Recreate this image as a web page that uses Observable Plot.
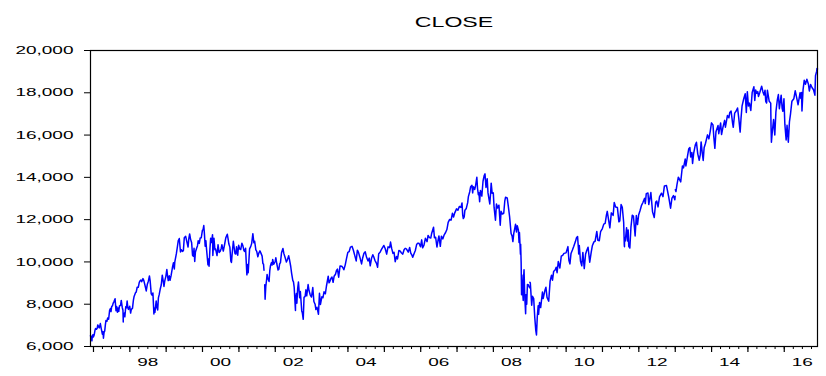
<!DOCTYPE html>
<html>
<head>
<meta charset="utf-8">
<script src="https://cdn.jsdelivr.net/npm/d3@7"></script>
<script src="https://cdn.jsdelivr.net/npm/@observablehq/plot@0.6"></script>
<style>
  html, body { margin: 0; padding: 0; background: #fff; }
</style>
</head>
<body>
<div id="chart"></div>
<script>
// ---- Data (approximate closes) ----
const title = "CLOSE";
const yTicks = [6000, 8000, 10000, 12000, 14000, 16000, 18000, 20000];
const xLabelYears = [1998, 2000, 2002, 2004, 2006, 2008, 2010, 2012, 2014, 2016];
const xLabels = ["98", "00", "02", "04", "06", "08", "10", "12", "14", "16"];

const close1996_1998 = [
["1996-12-02",6522],["1996-12-05",6437],["1996-12-10",6473],["1996-12-16",6268],["1996-12-20",6485],["1996-12-27",6560],["1996-12-31",6448],
["1997-01-08",6549],["1997-01-16",6766],["1997-01-22",6850],["1997-01-31",6813],["1997-02-07",6856],["1997-02-13",7022],["1997-02-21",6931],["1997-02-28",6878],["1997-03-11",7085],["1997-03-18",6896],["1997-03-31",6583],["1997-04-07",6703],["1997-04-11",6391],["1997-04-17",6658],["1997-04-24",6738],["1997-04-30",7008],["1997-05-06",7225],["1997-05-16",7194],["1997-05-23",7345],["1997-06-02",7289],["1997-06-12",7711],["1997-06-20",7796],["1997-06-26",7651],["1997-07-03",7895],["1997-07-11",7921],["1997-07-17",8038],["1997-07-25",8113],["1997-08-06",8259],["1997-08-15",7694],["1997-08-22",7887],["1997-08-29",7622],["1997-09-05",7822],["1997-09-12",7660],["1997-09-19",7917],["1997-09-30",7945],["1997-10-07",8178],["1997-10-17",7847],["1997-10-24",7715],["1997-10-27",7161],["1997-10-28",7498],["1997-11-07",7581],["1997-11-12",7402],["1997-11-21",7881],["1997-11-28",7823],["1997-12-05",8149],["1997-12-12",7839],["1997-12-19",7757],["1997-12-31",7908],
["1998-01-09",7580],["1998-01-16",7753],["1998-01-28",7815],["1998-02-06",8190],["1998-02-13",8370],["1998-02-27",8546],["1998-03-06",8570],["1998-03-16",8803],["1998-03-27",8797],["1998-04-06",9033],["1998-04-14",9110],["1998-04-22",9143],["1998-04-30",9063],["1998-05-13",9211],["1998-05-22",9114],["1998-06-01",8922],["1998-06-15",8627],["1998-06-26",8945],["1998-07-06",9085],["1998-07-17",9338],["1998-07-24",9116],["1998-08-04",8487],["1998-08-14",8425],["1998-08-21",8534],["1998-08-31",7539],["1998-09-01",7827],["1998-09-10",7615],["1998-09-23",8154],["1998-09-30",7843],["1998-10-08",7731],["1998-10-15",8300],["1998-10-23",8452],["1998-11-02",8707],["1998-11-13",8920],["1998-11-23",9374],["1998-12-01",9134],["1998-12-10",8841],["1998-12-18",9102],["1998-12-29",9320]
];

const close1999_2002 = [
["1999-01-08",9643],["1999-01-15",9340],["1999-01-22",9120],["1999-02-01",9346],["1999-02-09",9133],["1999-02-19",9340],["1999-03-05",9736],["1999-03-15",9959],["1999-03-24",9666],["1999-03-29",10006],["1999-04-14",10400],["1999-04-23",10689],["1999-05-03",11015],["1999-05-13",11107],["1999-05-25",10470],["1999-06-02",10577],["1999-06-14",10500],["1999-06-23",10534],["1999-07-02",11139],["1999-07-16",11209],["1999-07-27",10979],["1999-08-09",10707],["1999-08-17",11117],["1999-08-25",11326],["1999-09-03",11079],["1999-09-14",10910],["1999-09-23",10318],["1999-10-01",10273],["1999-10-08",10649],["1999-10-15",10019],["1999-10-22",10470],["1999-11-03",10648],["1999-11-12",10770],["1999-11-19",11003],["1999-11-30",10878],["1999-12-09",11135],["1999-12-20",11145],["1999-12-31",11497],
["2000-01-07",11523],["2000-01-14",11723],["2000-01-20",11351],["2000-01-28",10739],["2000-02-04",11006],["2000-02-10",10643],["2000-02-18",10219],["2000-02-25",9862],["2000-03-01",10137],["2000-03-07",9796],["2000-03-16",10630],["2000-03-23",11119],["2000-03-31",10922],["2000-04-11",11287],["2000-04-14",10305],["2000-04-25",11125],["2000-05-05",10577],["2000-05-12",10610],["2000-05-26",10300],["2000-06-05",10815],["2000-06-16",10449],["2000-06-27",10504],["2000-07-07",10635],["2000-07-14",10813],["2000-07-28",10512],["2000-08-09",10801],["2000-08-22",11139],["2000-09-06",11310],["2000-09-14",11087],["2000-09-22",10847],["2000-10-02",10700],["2000-10-12",10035],["2000-10-18",9975],["2000-10-25",10380],["2000-11-06",10977],["2000-11-14",10681],["2000-11-22",10399],["2000-12-01",10373],["2000-12-08",10713],["2000-12-20",10318],["2000-12-29",10787],
["2001-01-08",10621],["2001-01-19",10587],["2001-01-31",10887],["2001-02-09",10781],["2001-02-21",10526],["2001-02-28",10495],["2001-03-09",10644],["2001-03-15",10031],["2001-03-22",9389],["2001-03-30",9879],["2001-04-04",9485],["2001-04-18",10615],["2001-04-30",10735],["2001-05-09",10867],["2001-05-21",11337],["2001-05-31",10912],["2001-06-08",10977],["2001-06-20",10567],["2001-06-29",10502],["2001-07-10",10241],["2001-07-20",10416],["2001-07-31",10523],["2001-08-10",10417],["2001-08-22",10275],["2001-08-30",9919],["2001-09-05",9899],["2001-09-10",9605],["2001-09-11",null],["2001-09-17",8920],["2001-09-21",8235],["2001-09-28",8848],["2001-10-05",9120],["2001-10-11",9410],["2001-10-19",9204],["2001-10-31",9075],["2001-11-07",9591],["2001-11-14",9823],["2001-11-23",9959],["2001-11-30",9852],["2001-12-06",10115],["2001-12-17",9891],["2001-12-31",10021],
["2002-01-07",10197],["2002-01-16",9925],["2002-01-29",9618],["2002-02-06",9653],["2002-02-14",9903],["2002-02-22",9968],["2002-03-05",10433],["2002-03-19",10635],["2002-03-28",10404],["2002-04-10",10211],["2002-04-23",10000],["2002-05-02",10090],["2002-05-16",10289],["2002-05-24",10105],["2002-06-05",9796],["2002-06-14",9474],["2002-06-26",9127],["2002-07-03",9055],["2002-07-10",8813],["2002-07-19",8019],["2002-07-23",7702],["2002-07-24",8191],["2002-08-01",8506],["2002-08-06",8043],["2002-08-14",8743],["2002-08-22",9053],["2002-09-03",8308],["2002-09-10",8602],["2002-09-24",7683],["2002-09-30",7592],["2002-10-09",7286],["2002-10-17",8322],["2002-10-28",8368],["2002-11-05",8678],["2002-11-13",8398],["2002-11-27",8931],["2002-12-06",8645],["2002-12-18",8447],["2002-12-31",8341]
];

const close2003_2007 = [
["2003-01-13",8785],["2003-01-24",8131],["2003-02-05",8000],["2003-02-13",7749],["2003-02-24",7858],["2003-03-11",7524],["2003-03-21",8521],["2003-03-31",7992],["2003-04-14",8351],["2003-04-25",8307],["2003-05-06",8588],["2003-05-19",8493],["2003-05-30",8850],["2003-06-17",9323],["2003-06-25",9011],["2003-07-03",9070],["2003-07-14",9217],["2003-07-25",9284],["2003-08-05",9036],["2003-08-15",9321],["2003-08-29",9415],["2003-09-08",9593],["2003-09-18",9659],["2003-09-30",9275],["2003-10-14",9812],["2003-10-31",9801],["2003-11-10",9737],["2003-11-21",9628],["2003-12-05",9862],["2003-12-17",10145],["2003-12-31",10453],
["2004-01-13",10485],["2004-01-26",10702],["2004-02-11",10737],["2004-02-24",10566],["2004-03-10",10296],["2004-03-24",10048],["2004-04-05",10558],["2004-04-16",10451],["2004-04-30",10225],["2004-05-17",9906],["2004-05-28",10188],["2004-06-10",10410],["2004-06-23",10479],["2004-07-06",10219],["2004-07-21",10046],["2004-08-02",10179],["2004-08-12",9814],["2004-08-25",10173],["2004-09-07",10341],["2004-09-16",10244],["2004-09-28",10077],["2004-10-14",9933],["2004-10-25",9750],["2004-11-05",10387],["2004-11-19",10457],["2004-12-03",10592],["2004-12-15",10691],["2004-12-27",10777],
["2005-01-10",10621],["2005-01-24",10368],["2005-02-07",10715],["2005-02-23",10673],["2005-03-04",10940],["2005-03-16",10627],["2005-03-28",10405],["2005-04-08",10461],["2005-04-20",10012],["2005-05-03",10256],["2005-05-13",10141],["2005-05-27",10542],["2005-06-10",10513],["2005-06-22",10421],["2005-07-05",10371],["2005-07-18",10574],["2005-07-29",10641],["2005-08-10",10616],["2005-08-29",10463],["2005-09-12",10682],["2005-09-23",10420],["2005-10-05",10317],["2005-10-13",10217],["2005-10-25",10377],["2005-11-08",10539],["2005-11-21",10821],["2005-12-02",10878],["2005-12-15",10882],["2005-12-30",10718],
["2006-01-11",11043],["2006-01-20",10667],["2006-02-03",10794],["2006-02-17",11115],["2006-03-06",10959],["2006-03-16",11254],["2006-03-30",11150],["2006-04-12",11129],["2006-04-21",11347],["2006-05-10",11642],["2006-05-19",11144],["2006-05-31",11168],["2006-06-13",10706],["2006-06-23",10989],["2006-07-03",11228],["2006-07-17",10739],["2006-07-28",11219],["2006-08-11",11089],["2006-08-25",11284],["2006-09-08",11392],["2006-09-21",11533],["2006-10-04",11871],["2006-10-19",12011],["2006-11-03",11987],["2006-11-16",12305],["2006-11-27",12121],["2006-12-08",12307],["2006-12-27",12510],
["2007-01-10",12442],["2007-01-24",12621],["2007-02-09",12580],["2007-02-20",12786],["2007-02-27",12216],["2007-03-05",12051],["2007-03-14",12133],["2007-03-21",12447],["2007-04-04",12530],["2007-04-18",12803],["2007-04-25",13089],["2007-05-08",13309],["2007-05-18",13556],["2007-05-31",13628],["2007-06-07",13266],["2007-06-14",13553],["2007-06-27",13427],["2007-07-05",13577],["2007-07-19",14000],["2007-07-26",13473],["2007-08-03",13182],["2007-08-09",13271],["2007-08-16",12845],["2007-08-24",13379],["2007-09-07",13113],["2007-09-19",13816],["2007-10-01",14087],["2007-10-09",14164],["2007-10-19",13522],["2007-10-31",13930],["2007-11-08",13266],["2007-11-26",12743],["2007-12-04",13249],["2007-12-10",13727],["2007-12-20",13245],["2007-12-31",13265]
];

const close2008_2011 = [
["2008-01-08",12589],["2008-01-22",11971],["2008-02-01",12743],["2008-02-13",12553],["2008-02-26",12684],["2008-03-10",11740],["2008-03-18",12392],["2008-03-31",12263],["2008-04-14",12303],["2008-04-25",12892],["2008-05-02",13058],["2008-05-19",13028],["2008-05-30",12638],["2008-06-12",12141],["2008-06-27",11346],["2008-07-07",11231],["2008-07-15",10962],["2008-07-24",11350],["2008-08-11",11782],["2008-08-20",11417],["2008-08-28",11715],["2008-09-08",11511],["2008-09-15",10917],["2008-09-19",11388],["2008-09-29",10365],["2008-10-01",10831],["2008-10-06",9955],["2008-10-10",8451],["2008-10-13",9387],["2008-10-15",8578],["2008-10-22",8519],["2008-10-27",8175],["2008-10-28",9065],["2008-11-04",9625],["2008-11-12",8283],["2008-11-20",7552],["2008-11-24",8443],["2008-12-01",7997],["2008-12-08",8934],["2008-12-16",8925],["2008-12-31",8776],["2009-01-01",null],
["2009-01-02",9034],["2009-01-06",9015],["2009-01-20",7949],["2009-01-28",8375],["2009-02-09",8270],["2009-02-20",7365],["2009-03-02",6763],["2009-03-09",6547],["2009-03-17",7395],["2009-03-26",7924],["2009-03-30",7522],["2009-04-09",8083],["2009-04-20",7841],["2009-05-08",8574],["2009-05-15",8268],["2009-06-03",8675],["2009-06-12",8799],["2009-06-23",8323],["2009-07-10",8146],["2009-07-24",9093],["2009-08-07",9370],["2009-08-17",9136],["2009-08-28",9544],["2009-09-14",9626],["2009-09-23",9748],["2009-10-02",9488],["2009-10-14",10015],["2009-10-30",9713],["2009-11-13",10270],["2009-11-27",10310],["2009-12-10",10405],["2009-12-31",10428],
["2010-01-19",10725],["2010-01-29",10067],["2010-02-08",9908],["2010-02-19",10402],["2010-03-05",10566],["2010-03-19",10742],["2010-04-05",10974],["2010-04-15",11144],["2010-04-26",11205],["2010-05-06",10520],["2010-05-07",10380],["2010-05-13",10782],["2010-05-25",10043],["2010-06-07",9816],["2010-06-18",10450],["2010-07-02",9686],["2010-07-15",10359],["2010-07-26",10525],["2010-08-09",10698],["2010-08-26",9985],["2010-09-10",10462],["2010-09-21",10761],["2010-10-07",10948],["2010-10-19",10978],["2010-11-05",11444],["2010-11-16",11023],["2010-11-30",11006],["2010-12-13",11428],["2010-12-31",11577],
["2011-01-14",11787],["2011-01-28",11823],["2011-02-10",12229],["2011-02-18",12391],["2011-03-01",12058],["2011-03-16",11613],["2011-03-31",12320],["2011-04-18",12202],["2011-04-29",12810],["2011-05-13",12596],["2011-05-31",12570],["2011-06-15",11897],["2011-06-24",11934],["2011-07-07",12719],["2011-07-19",12587],["2011-08-02",11867],["2011-08-08",10809],["2011-08-10",10720],["2011-08-11",11143],["2011-08-18",10990],["2011-08-31",11613],["2011-09-09",10992],["2011-09-16",11509],["2011-09-22",10733],["2011-10-03",10655],["2011-10-14",11644],["2011-10-27",12208],["2011-11-08",12170],["2011-11-25",11231],["2011-12-07",12196],["2011-12-19",11766],["2011-12-30",12217]
];

const close2012_2016 = [
["2012-01-13",12422],["2012-01-27",12660],["2012-02-10",12801],["2012-02-28",13005],["2012-03-06",12759],["2012-03-16",13232],["2012-04-02",13264],["2012-04-10",12716],["2012-05-01",13279],["2012-05-18",12369],["2012-06-04",12101],["2012-06-19",12837],["2012-06-29",12880],["2012-07-12",12604],["2012-07-27",13075],["2012-08-16",13250],["2012-08-31",13090],["2012-09-14",13593],["2012-10-05",13610],["2012-10-26",13107],["2012-11-15",12542],["2012-11-29",13021],["2012-12-14",13135],["2012-12-28",12938],["2012-12-31",13104],["2013-01-01",null],
["2013-01-02",13412],["2013-01-08",13329],["2013-01-18",13649],["2013-02-01",14009],["2013-02-25",13784],["2013-03-14",14539],["2013-03-25",14448],["2013-04-11",14865],["2013-04-18",14537],["2013-05-03",14973],["2013-05-17",15354],["2013-05-28",15409],["2013-06-05",14960],["2013-06-17",15179],["2013-06-24",14659],["2013-07-05",15135],["2013-07-22",15545],["2013-08-02",15658],["2013-08-15",15112],["2013-08-30",14810],["2013-09-09",15063],["2013-09-18",15676],["2013-09-30",15130],["2013-10-09",14802],["2013-10-18",15399],["2013-11-01",15615],["2013-11-21",16009],["2013-12-05",15821],["2013-12-18",16167],["2013-12-31",16577],
["2014-01-15",16481],["2014-01-24",15880],["2014-02-03",15372],["2014-02-14",16154],["2014-03-07",16452],["2014-03-14",16065],["2014-04-02",16573],["2014-04-11",16027],["2014-04-25",16361],["2014-05-12",16695],["2014-05-20",16374],["2014-06-09",16924],["2014-06-24",16818],["2014-07-03",17068],["2014-07-16",17138],["2014-07-31",16563],["2014-08-07",16368],["2014-08-21",17039],["2014-09-05",17137],["2014-09-19",17280],["2014-10-01",16804],["2014-10-15",16141],["2014-10-24",16805],["2014-11-03",17366],["2014-11-20",17719],["2014-12-05",17958],["2014-12-16",17068],["2014-12-26",18053],
["2015-01-06",17371],["2015-01-16",17512],["2015-01-30",17165],["2015-02-13",18019],["2015-03-02",18288],["2015-03-11",17635],["2015-03-20",18128],["2015-03-30",17977],["2015-04-10",18058],["2015-04-17",17826],["2015-05-01",18024],["2015-05-19",18312],["2015-06-01",18041],["2015-06-12",17899],["2015-06-22",18120],["2015-06-29",17597],["2015-07-08",17515],["2015-07-16",18120],["2015-08-03",17598],["2015-08-18",17512],["2015-08-21",16460],["2015-08-24",15871],["2015-08-25",15666],["2015-09-01",16058],["2015-09-16",16739],["2015-09-28",16001],["2015-10-09",17084],["2015-10-23",17647],["2015-11-03",17918],["2015-11-13",17245],["2015-12-01",17888],["2015-12-11",17265],["2015-12-18",17128],["2015-12-29",17720],
["2016-01-07",16515],["2016-01-20",15766],["2016-01-29",16466],["2016-02-11",15660],["2016-02-22",16620],["2016-03-04",17006],["2016-03-18",17602],["2016-04-06",17716],["2016-04-20",18096],["2016-05-06",17740],["2016-05-19",17435],["2016-06-08",18005],["2016-06-16",17733],["2016-06-23",18011],["2016-06-27",17140],["2016-07-08",18147],["2016-07-20",18595],["2016-08-01",18404],["2016-08-15",18636],["2016-08-31",18401],["2016-09-09",18085],["2016-09-22",18392],["2016-10-07",18240],["2016-10-21",18145],["2016-11-04",17888],["2016-11-10",18807],["2016-11-22",19024],["2016-11-25",19152],["2016-11-30",19124]
];

// ---- Build table ----
const rows = [...close1996_1998, ...close1999_2002, ...close2003_2007, ...close2008_2011, ...close2012_2016]
  .map(([d, v]) => ({date: new Date(d + "T00:00:00Z"), close: v}));

const start = rows[0].date;
const end = rows[rows.length - 1].date;
const yearStarts = d3.utcYears(new Date("1997-01-01T00:00:00Z"), end);
const allQuarters = d3.utcMonth.every(3).range(start, end);
const labelDates = xLabelYears.map(y => new Date(Date.UTC(y, 6, 1)));
const labelMap = new Map(labelDates.map((d, i) => [+d, xLabels[i]]));

const chart = Plot.plot({
  width: 826,
  height: 376,
  marginTop: 50,
  marginRight: 9,
  marginBottom: 30,
  marginLeft: 90,
  style: {fontFamily: "'Liberation Sans', Arial, sans-serif", fontSize: "11.5px", color: "#000", background: "#fff"},
  x: {type: "utc", domain: [start, end], label: null},
  y: {domain: [6000, 20000], label: null},
  marks: [
    Plot.axisY({ticks: yTicks, tickFormat: d3.format(","), tickSize: 6, tickPadding: 11, stroke: "#000", fill: "#000", strokeWidth: 1, label: null}),
    Plot.axisX({ticks: allQuarters, tickSize: 3, tickFormat: () => "", stroke: "#000", strokeWidth: 1, label: null}),
    Plot.axisX({ticks: yearStarts, tickSize: 6, tickFormat: () => "", stroke: "#000", strokeWidth: 1.2, label: null}),
    Plot.axisX({ticks: labelDates, tickSize: 0, tickPadding: 11, tickFormat: d => labelMap.get(+d), fill: "#000", label: null}),
    Plot.line(rows, {x: "date", y: "close", stroke: "#0000ff", strokeWidth: 1.5}),
    Plot.frame({stroke: "#000", strokeWidth: 1.2}),
    Plot.text([title], {frameAnchor: "top", dy: -33, fontSize: 14, fill: "#000"})
  ]
});

document.getElementById("chart").append(chart);

// Horizontally stretch the text like the original rendering
chart.querySelectorAll("text").forEach(t => {
  const w = t.getComputedTextLength();
  if (w > 0) {
    t.setAttribute("textLength", (w * 1.65).toFixed(1));
    t.setAttribute("lengthAdjust", "spacingAndGlyphs");
  }
});
</script>
</body>
</html>
